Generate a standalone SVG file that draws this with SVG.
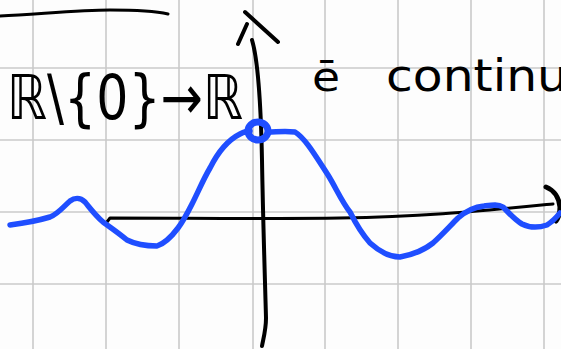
<svg xmlns="http://www.w3.org/2000/svg" width="561" height="349" viewBox="0 0 561 349">
<style>
.grid{stroke:#cacaca;stroke-width:1.6;fill:none}
.ink{stroke:#000;fill:none;stroke-linecap:round;stroke-linejoin:round}
.blue{stroke:#1f4eff;fill:none;stroke-width:5.5;stroke-linecap:round;stroke-linejoin:round}
.hand{font-family:"DejaVu Sans","Liberation Sans",sans-serif;fill:#000}
</style>
<rect width="561" height="349" fill="#fdfdfd"/>
<g id="grid">
<path class="grid" d="M33 0V349M106 0V349M179 0V349M253 0V349M325 0V349M398 0V349M471 0V349M544 0V349M0 68H561M0 140H561M0 212H561M0 284H561"/>
</g>
<g id="title-line">
<path class="ink" stroke-width="3" d="M0 16 C40 14 80 10 110 10 C140 10 155 11 168 14"/>
</g>
<g id="labels">
<text class="hand" x="7" y="119" font-size="62" textLength="236" lengthAdjust="spacingAndGlyphs">ℝ\{0}→ℝ</text>
<text class="hand" x="312" y="91" font-size="40" textLength="28" lengthAdjust="spacingAndGlyphs">ē</text>
<text class="hand" x="386" y="91" font-size="44" textLength="182" lengthAdjust="spacingAndGlyphs">continu</text>
</g>
<g id="axes">
<path class="ink" stroke-width="4" d="M252 40 C258 60 261 110 262 160 C263 220 265 280 266 318 C266 330 263 340 262 346"/>
<path class="ink" stroke-width="4" d="M238 44 L247 24 M245 12 L278 42"/>
<path class="ink" stroke-width="3" d="M107 222 L110 218 C180 218 280 219 340 218 C420 217 470 212 553 204"/>
<path class="ink" stroke-width="5" d="M546 187 C554 190 559 198 560 207 C560 213 559 217 556 221"/>
</g>
<g id="curve">
<path class="blue" d="M10 225 C25 223 40 220 50 217 C58 214 64 206 70 201 C74 198 80 197 85 202 C90 208 95 215 103 222 C110 227 120 234 127 240 C135 244 148 246 157 246 C166 243 172 236 178 228 C184 220 188 212 192 204 C198 192 204 178 210 168 C218 152 228 140 240 134 C244 132 247 131 250 131 M268 132 C276 132 285 131 295 132 C305 138 315 155 328 175 C336 188 342 202 350 212 C356 224 362 234 370 243 C380 252 390 257 400 257 C412 255 424 250 433 243 C442 235 450 226 458 218 C466 211 474 207 484 206 C492 205 498 204 503 207 C510 214 515 220 522 224 C530 228 538 228 547 225 C552 222 556 218 560 213"/>
<ellipse cx="258" cy="131" rx="10" ry="9" stroke="#1f4eff" stroke-width="7" fill="none"/>
</g>
</svg>
